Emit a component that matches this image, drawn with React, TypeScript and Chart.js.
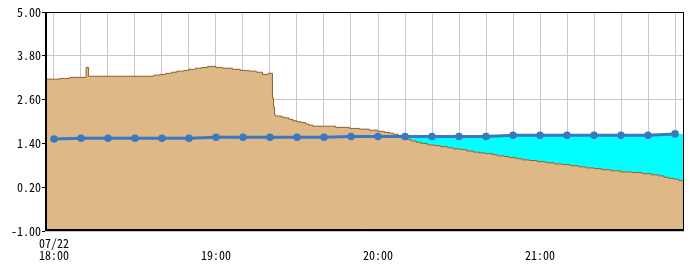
import React, { useEffect, useRef } from 'react';
import { Chart, registerables } from 'chart.js';

Chart.register(...registerables);

// x values are minutes after 07/22 18:00
const X_MIN = -3.33;
const X_MAX = 233.33;
const yTicks = [-1, 0.2, 1.4, 2.6, 3.8, 5];
const xGridMinutes = [0, 10, 20, 30, 40, 50, 60, 70, 80, 90, 100, 110, 120, 130, 140, 150, 160, 170, 180, 190, 200, 210, 220, 230];
const xLabelMinutes = [0, 60, 120, 180];
const xLabelTexts = [['07/22', '18:00'], ['', '19:00'], ['', '20:00'], ['', '21:00']];

// observed water level (step changes)
const levelMinutes = [
  -3.33, 2.2, 5.9, 11.9, 12.8, 37.0, 39.2, 41.4, 43.5, 45.5, 48.1, 49.9, 52.4, 54.6, 56.9, 59.9,
  62.4, 66.1, 69.0, 72.2, 74.9, 77.2, 79.4, 80.9, 81.3, 81.7, 82.1, 84.2, 85.4, 87.0, 88.5, 89.9,
  91.6, 93.2, 94.4, 95.9, 104.3, 109.4, 113.1, 116.8, 119.9, 122.4, 124.2, 125.7, 127.5, 129.0,
  130.4, 132.2, 134.1, 135.9, 138.3, 140.9, 143.1, 145.8, 147.9, 150.5, 152.8, 155.4, 157.5, 159.7,
  162.4, 164.3, 166.7, 168.6, 171.3, 173.5, 176.0, 179.0, 182.1, 185.2, 188.1, 191.0, 194.2, 196.9,
  200.0, 202.8, 206.2, 209.9, 213.9, 217.9, 221.3, 223.8, 225.9, 227.7, 229.6, 231.4, 233.33,
];
const levelValues = [
  3.16, 3.18, 3.21, 3.48, 3.24, 3.27, 3.29, 3.32, 3.35, 3.38, 3.40, 3.43, 3.46, 3.48, 3.51, 3.48,
  3.46, 3.43, 3.40, 3.38, 3.35, 3.29, 3.32, 2.64, 2.40, 2.18, 2.15, 2.12, 2.10, 2.06, 2.02, 1.99,
  1.97, 1.93, 1.90, 1.87, 1.84, 1.81, 1.79, 1.76, 1.73, 1.70, 1.68, 1.65, 1.62, 1.57,
  1.51, 1.47, 1.43, 1.40, 1.36, 1.34, 1.31, 1.28, 1.25, 1.23, 1.19, 1.16, 1.14, 1.12,
  1.09, 1.06, 1.04, 1.01, 0.98, 0.95, 0.93, 0.90, 0.87, 0.84, 0.82, 0.79, 0.76, 0.73,
  0.71, 0.68, 0.65, 0.62, 0.60, 0.57, 0.54, 0.51, 0.47, 0.44, 0.42, 0.38, 0.38,
];

// blue line with markers every 10 minutes
const forecastMinutes = xGridMinutes;
const forecastValues = [
  1.52, 1.54, 1.54, 1.54, 1.54, 1.54, 1.57, 1.57, 1.57, 1.57, 1.57, 1.59, 1.59, 1.59, 1.59, 1.59,
  1.59, 1.62, 1.62, 1.62, 1.62, 1.62, 1.62, 1.66,
];

const FONT = '"Noto Sans Mono CJK JP", "DejaVu Sans Mono", monospace';

const framePlugin = {
  id: 'frame',
  afterDatasetsDraw(chart: any) {
    const { ctx, chartArea: a } = chart;
    ctx.save();
    ctx.strokeStyle = '#000';
    ctx.lineWidth = 1;
    ctx.strokeRect(a.left + 0.5, a.top + 0.5, a.right - a.left - 1, a.bottom - a.top - 1);
    ctx.lineWidth = 2;
    ctx.beginPath();
    ctx.moveTo(a.left + 1, a.top);
    ctx.lineTo(a.left + 1, a.bottom - 1);
    ctx.lineTo(a.right, a.bottom - 1);
    ctx.stroke();
    ctx.restore();
  },
};

export default function App() {
  const ref = useRef<HTMLCanvasElement>(null);

  useEffect(() => {
    if (!ref.current) return;
    const level = levelMinutes.map((m, i) => ({ x: m, y: levelValues[i] }));
    const forecast = forecastMinutes.map((m, i) => ({ x: m, y: forecastValues[i] }));
    const cyanFill = [...forecast, { x: X_MAX, y: forecastValues[forecastValues.length - 1] }];

    const chart = new Chart(ref.current, {
      type: 'line',
      data: {
        datasets: [
          {
            data: forecast,
            borderColor: '#3A78C0',
            backgroundColor: '#3A78C0',
            borderWidth: 3,
            pointRadius: 3.8,
            pointBorderWidth: 0,
            pointBackgroundColor: '#3A78C0',
            fill: false,
            order: 0,
          },
          {
            data: cyanFill,
            borderWidth: 0,
            borderColor: 'rgba(0,0,0,0)',
            pointRadius: 0,
            fill: { target: 2, above: '#00FFFF', below: 'rgba(0,0,0,0)' },
            order: 1,
          },
          {
            data: level,
            borderColor: '#9A5B2A',
            backgroundColor: '#DEB887',
            borderWidth: 1,
            pointRadius: 0,
            stepped: true,
            fill: 'start',
            order: 2,
          },
        ],
      },
      options: {
        responsive: false,
        animation: false,
        events: [],
        layout: { padding: { left: 0, right: 6, top: 12, bottom: 0 } },
        plugins: {
          legend: { display: false },
          tooltip: { enabled: false },
          filler: { drawTime: 'beforeDatasetsDraw' },
        },
        scales: {
          x: {
            type: 'linear',
            min: X_MIN,
            max: X_MAX,
            afterBuildTicks: (s: any) => {
              s.ticks = xGridMinutes.map((v) => ({ value: v }));
            },
            afterFit: (s: any) => {
              s.height = 34;
            },
            ticks: {
              autoSkip: false,
              maxRotation: 0,
              minRotation: 0,
              padding: 6,
              color: '#000',
              font: { family: FONT, size: 12, lineHeight: 1 },
              callback: (v: any) => {
                const i = xLabelMinutes.indexOf(Number(v));
                return i >= 0 ? xLabelTexts[i] : '';
              },
            },
            grid: { color: '#C8C8C8', lineWidth: 1, drawTicks: false },
            border: { display: false },
          },
          y: {
            type: 'linear',
            min: -1,
            max: 5,
            afterBuildTicks: (s: any) => {
              s.ticks = yTicks.map((v) => ({ value: v }));
            },
            afterFit: (s: any) => {
              s.width = 45;
            },
            ticks: {
              padding: 1,
              color: '#000',
              font: { family: FONT, size: 12, lineHeight: 1 },
              callback: (v: any) => Number(v).toFixed(2),
            },
            grid: { color: '#C8C8C8', lineWidth: 1, tickColor: '#000', tickLength: 3 },
            border: { display: false },
          },
        },
      },
      plugins: [framePlugin],
    });
    return () => chart.destroy();
  }, []);

  return (
    <div style={{ position: 'fixed', left: 0, top: 0, width: 690, height: 265, background: '#fff' }}>
      <canvas ref={ref} width={690} height={265} style={{ display: 'block' }} />
    </div>
  );
}
